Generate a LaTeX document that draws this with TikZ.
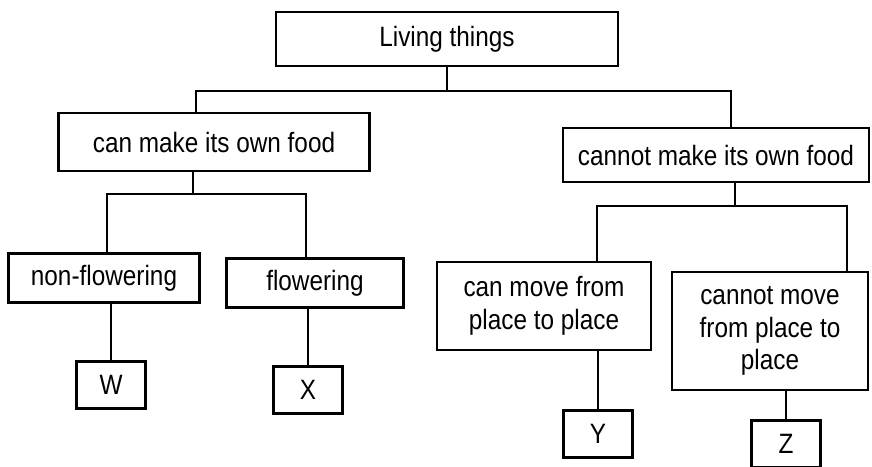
\documentclass[tikz,border=0pt]{standalone}
\usepackage{fontspec}
\setmainfont[FakeStretch=0.87]{Liberation Sans}

\tikzset{
  box/.style={draw, line width=1.6pt, inner sep=0pt, align=center,
    font=\fontsize{19.9}{23.1}\selectfont},
  letterbox/.style={box, minimum width=1.725cm, minimum height=1.175cm},
  link/.style={line width=1.6pt}
}

\begin{document}
\begin{tikzpicture}[x=0.025cm, y=-0.025cm]
\useasboundingbox (0,0) rectangle (872,466);

 % level 0 and 1
 \node[box, minimum width=8.55cm, minimum height=1.35cm] (living) at (447,39) {Living things};
 \node[box, minimum width=7.775cm, minimum height=1.45cm] (canmake) at (214,142) {can make its own food};
 \node[box, minimum width=7.65cm, minimum height=1.35cm] (cannotmake) at (716,155) {cannot make its own food};

 % level 2
 \node[box, minimum width=4.775cm, minimum height=1.225cm] (nonflow) at (104,278) {non-flowering};
 \node[box, minimum width=4.425cm, minimum height=1.225cm] (flow) at (315,283) {flowering};
 \node[box, minimum width=5.35cm, minimum height=2.2cm] (canmove) at (544,306) {can move from\\place to place};
 \node[box, minimum width=4.9cm, minimum height=2.95cm] (cannotmove) at (770,331) {cannot move\\from place to\\place};

 % level 3
 \foreach \name/\x/\y in {W/111/385, X/308/390, Y/598/434, Z/786/444}
   \node[letterbox] (\name) at (\x,\y) {\name};

 % bus points
 \coordinate (tl) at (196,91);
 \coordinate (tr) at (731,91);
 \coordinate (lm) at (193,194);
 \coordinate (ll) at (107,194);
 \coordinate (lr) at (306,194);
 \coordinate (rm) at (735,206);
 \coordinate (rl) at (597,206);
 \coordinate (rr) at (847,206);

 % lines
 \draw[link] (living.south) -- (living.south |- tl);
 \draw[link] (canmake.north -| tl) -- (tl) -- (tr) -- (cannotmake.north -| tr);
 \draw[link] (canmake.south -| lm) -- (lm);
 \draw[link] (nonflow.north -| ll) -- (ll) -- (lr) -- (flow.north -| lr);
 \draw[link] (cannotmake.south -| rm) -- (rm);
 \draw[link] (canmove.north -| rl) -- (rl) -- (rr) -- (cannotmove.north -| rr);
 \foreach \up/\down in {nonflow/W, flow/X, canmove/Y, cannotmove/Z}
   \draw[link] (\down.north) -- (\down.north |- \up.south);

\end{tikzpicture}
\end{document}
